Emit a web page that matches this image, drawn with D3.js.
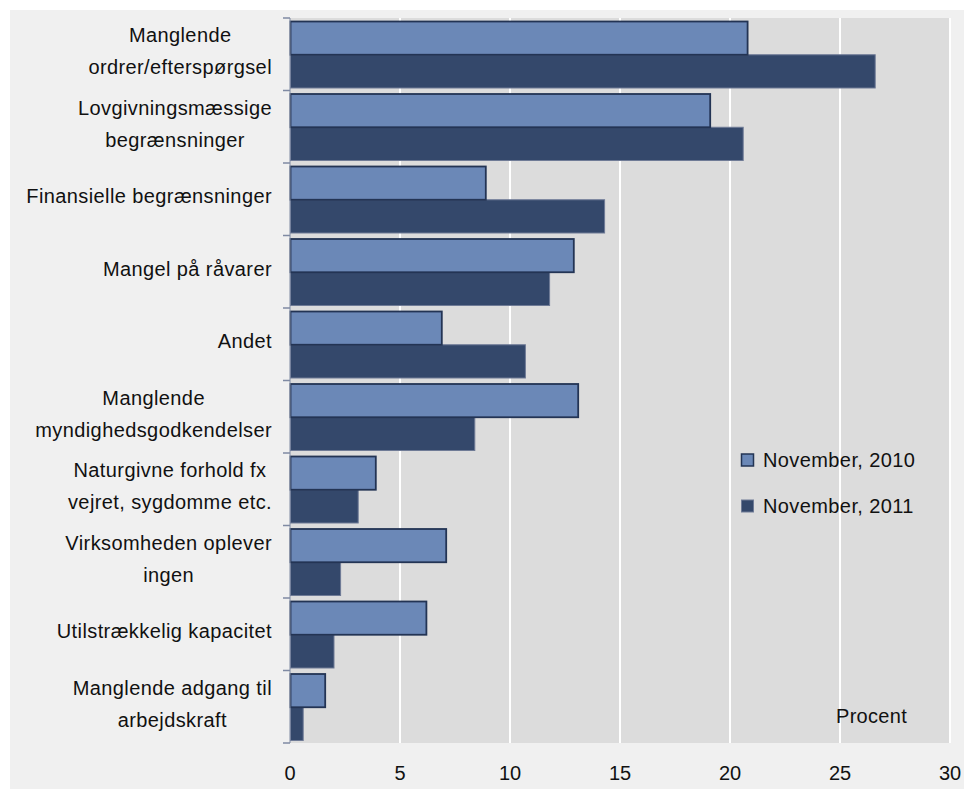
<!DOCTYPE html>
<html>
<head>
<meta charset="utf-8">
<script src="https://cdn.jsdelivr.net/npm/d3@7/dist/d3.min.js"></script>
<style>
  body { margin: 0; background: #ffffff; }
  svg text { font-family: "Liberation Sans", Arial, sans-serif; fill: #111111; }
</style>
</head>
<body>
<script>
/* data */

var categories = [
  'Manglende|ordrer/efterspørgsel',
  'Lovgivningsmæssige|begrænsninger',
  'Finansielle begrænsninger',
  'Mangel på råvarer',
  'Andet',
  'Manglende|myndighedsgodkendelser',
  'Naturgivne forhold fx|vejret, sygdomme etc.',
  'Virksomheden oplever|ingen',
  'Utilstrækkelig kapacitet',
  'Manglende adgang til|arbejdskraft'
];
var series = ['November, 2010', 'November, 2011'];
var values2010 = [20.8, 19.1, 8.9, 12.9, 6.9, 13.1, 3.9, 7.1, 6.2, 1.6];
var values2011 = [26.6, 20.6, 14.3, 11.8, 10.7, 8.4, 3.1, 2.3, 2.0, 0.6];
var xTicks = [0, 5, 10, 15, 20, 25, 30];

var width = 964;
var height = 789;
var margin = { top: 18, right: 14, bottom: 46, left: 290 };
var innerWidth = 950 - margin.left;
var innerHeight = 743 - margin.top;

var fills = { 'November, 2010': '#6b88b7', 'November, 2011': '#34486b' };
var strokes = { 'November, 2010': '#233454', 'November, 2011': '#6f7b96' };

/* canvas */

var svg = d3.select('body').append('svg')
  .attr('width', width)
  .attr('height', height)
  .style('display', 'block');

svg.append('rect')
  .attr('x', 10).attr('y', 10)
  .attr('width', width - 10).attr('height', height - 10)
  .attr('fill', '#f0f0f0');

var g = svg.append('g')
  .attr('transform', 'translate(' + margin.left + ',' + margin.top + ')');

g.append('rect')
  .attr('width', innerWidth)
  .attr('height', innerHeight)
  .attr('fill', '#dcdcdc');

/* scales */

var x = d3.scaleLinear().domain([0, 30]).range([0, innerWidth]);
var y = d3.scaleBand().domain(categories).range([0, innerHeight]);
var y1 = d3.scaleBand().domain(series).range([3.5, y.bandwidth() - 2.5]);

/* grid */

g.selectAll('.grid')
  .data(xTicks.slice(1))
  .enter().append('line')
  .attr('x1', function (d) { return x(d); })
  .attr('x2', function (d) { return x(d); })
  .attr('y1', 0)
  .attr('y2', innerHeight)
  .attr('stroke', '#ffffff')
  .attr('stroke-width', 2);

/* bars */

var rows = categories.map(function (c, i) {
  return { cat: c, vals: [
    { s: series[0], v: values2010[i] },
    { s: series[1], v: values2011[i] }
  ] };
});

var rowG = g.selectAll('.row')
  .data(rows)
  .enter().append('g')
  .attr('transform', function (d) { return 'translate(0,' + y(d.cat) + ')'; });

// dark bars first so light bar borders sit on top
rowG.selectAll('rect')
  .data(function (d) { return d.vals.slice().reverse(); })
  .enter().append('rect')
  .attr('x', 0.5)
  .attr('y', function (d) { return y1(d.s); })
  .attr('width', function (d) { return x(d.v) - 0.5; })
  .attr('height', y1.bandwidth())
  .attr('fill', function (d) { return fills[d.s]; })
  .attr('stroke', function (d) { return strokes[d.s]; })
  .attr('stroke-width', function (d) { return d.s === series[0] ? 1.8 : 1; });

/* y axis */

g.append('line')
  .attr('x1', 0).attr('x2', 0)
  .attr('y1', 0).attr('y2', innerHeight)
  .attr('stroke', '#7f8aa3');

g.selectAll('.ytick')
  .data(categories.concat(['end']))
  .enter().append('line')
  .attr('x1', -7).attr('x2', 0)
  .attr('y1', function (d, i) { return i * y.step(); })
  .attr('y2', function (d, i) { return i * y.step(); })
  .attr('stroke', '#7f8aa3')
  .attr('stroke-width', 1.5);

/* category labels: centred lines, block right-aligned */

var labelRight = margin.left - 18;
var lineGap = 32;

rows.forEach(function (d) {
  var lines = d.cat.split('|');
  var cy = margin.top + y(d.cat) + y.bandwidth() / 2 - 3;
  var txt = svg.selectAll(null)
    .data(lines)
    .enter().append('text')
    .attr('y', function (l, i) { return cy + (i - (lines.length - 1) / 2) * lineGap; })
    .attr('dy', '0.35em')
    .attr('text-anchor', 'middle')
    .style('font-size', '20px')
    .style('letter-spacing', '0.4px')
    .text(function (l) { return l; });
  var w = 0;
  txt.each(function () { w = Math.max(w, this.getComputedTextLength()); });
  txt.attr('x', labelRight - w / 2);
});

/* x tick labels */

g.selectAll('.xlabel')
  .data(xTicks)
  .enter().append('text')
  .attr('x', function (d) { return x(d); })
  .attr('y', innerHeight + 37)
  .attr('text-anchor', 'middle')
  .style('font-size', '20px')
  .text(function (d) { return d; });

/* unit label */

g.append('text')
  .attr('x', 836 - margin.left)
  .attr('y', 723 - margin.top)
  .style('font-size', '20px')
  .style('letter-spacing', '0.3px')
  .text('Procent');

/* legend */

var legend = g.append('g')
  .attr('transform', 'translate(' + (741 - margin.left) + ',' + (460 - margin.top) + ')');

var items = legend.selectAll('g')
  .data(series)
  .enter().append('g')
  .attr('transform', function (d, i) { return 'translate(0,' + i * 46 + ')'; });

items.append('rect')
  .attr('x', 0.5).attr('y', -6)
  .attr('width', 12).attr('height', 12)
  .attr('fill', function (d) { return fills[d]; })
  .attr('stroke', function (d) { return strokes[d]; })
  .attr('stroke-width', function (d) { return d === series[0] ? 1.5 : 1; });

items.append('text')
  .attr('x', 22)
  .attr('y', 0)
  .attr('dy', '0.35em')
  .style('font-size', '20px')
  .style('letter-spacing', '0.4px')
  .text(function (d) { return d; });
</script>
</body>
</html>
